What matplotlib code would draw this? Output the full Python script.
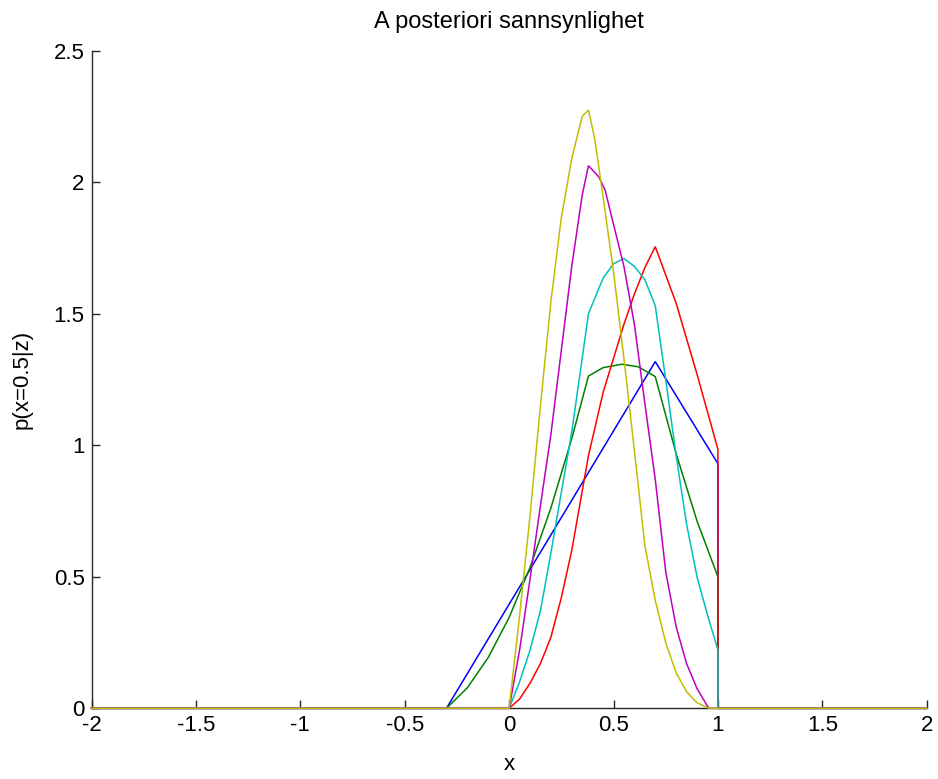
import matplotlib
matplotlib.use("Agg")
import matplotlib.pyplot as plt

plt.rcParams['font.family'] = ['Liberation Sans', 'DejaVu Sans']

# ---- data ----
blue_x = [-2.0, -0.3, 0.7, 1.0, 1.0, 2.0]
blue_y = [0.0, 0.0, 1.318, 0.93, 0.0, 0.0]

green_x = [-2.0, -0.3, -0.2, -0.1, 0.0, 0.1, 0.2, 0.3, 0.38, 0.45, 0.54, 0.62, 0.7,
           0.8, 0.9, 1.0, 1.0, 2.0]
green_y = [0.0, 0.0, 0.078, 0.193, 0.345, 0.535, 0.761, 1.025, 1.263, 1.295, 1.308,
           1.298, 1.261, 0.968, 0.712, 0.50, 0.0, 0.0]

red_x = [-2.0, 0.0, 0.05, 0.1, 0.15, 0.2, 0.25, 0.3, 0.38, 0.45, 0.5, 0.55, 0.6, 0.65,
         0.7, 0.8, 0.9, 1.0, 1.0, 2.0]
red_y = [0.0, 0.0, 0.035, 0.095, 0.17, 0.27, 0.42, 0.60, 0.96, 1.20, 1.33, 1.46, 1.575,
         1.675, 1.755, 1.54, 1.27, 0.985, 0.0, 0.0]

cyan_x = [-2.0, 0.0, 0.05, 0.1, 0.15, 0.2, 0.25, 0.3, 0.35, 0.38, 0.45, 0.5, 0.55, 0.6,
          0.65, 0.7, 0.75, 0.8, 0.85, 0.9, 0.95, 1.0, 1.0, 2.0]
cyan_y = [0.0, 0.0, 0.10, 0.22, 0.37, 0.59, 0.82, 1.05, 1.33, 1.50, 1.635, 1.69, 1.71,
          1.68, 1.63, 1.53, 1.25, 0.96, 0.70, 0.50, 0.355, 0.222, 0.0, 0.0]

magenta_x = [-2.0, 0.0, 0.05, 0.1, 0.15, 0.2, 0.25, 0.3, 0.35, 0.38, 0.43, 0.46, 0.5,
             0.55, 0.6, 0.65, 0.7, 0.75, 0.8, 0.85, 0.9, 0.95, 0.96, 2.0]
magenta_y = [0.0, 0.0, 0.22, 0.49, 0.77, 1.04, 1.36, 1.68, 1.95, 2.063, 2.02, 1.97,
             1.84, 1.68, 1.46, 1.16, 0.87, 0.52, 0.31, 0.17, 0.075, 0.008, 0.0, 0.0]

yellow_x = [-2.0, 0.0, 0.05, 0.1, 0.15, 0.2, 0.25, 0.3, 0.35, 0.38, 0.41, 0.45, 0.5,
            0.55, 0.6, 0.65, 0.7, 0.75, 0.8, 0.85, 0.9, 0.95, 0.96, 2.0]
yellow_y = [0.0, 0.0, 0.35, 0.73, 1.15, 1.545, 1.865, 2.09, 2.25, 2.275, 2.165, 1.945,
            1.66, 1.33, 0.98, 0.62, 0.41, 0.25, 0.135, 0.063, 0.021, 0.003, 0.0, 0.0]

x_ticks = [-2, -1.5, -1, -0.5, 0, 0.5, 1, 1.5, 2]
x_tick_labels = ['-2', '-1.5', '-1', '-0.5', '0', '0.5', '1', '1.5', '2']
y_ticks = [0, 0.5, 1, 1.5, 2, 2.5]
y_tick_labels = ['0', '0.5', '1', '1.5', '2', '2.5']

title = 'A posteriori sannsynlighet'
xlabel = 'x'
ylabel = 'p(x=0.5|z)'

series = [
    (blue_x, blue_y, (0.0, 0.0, 1.0)),
    (green_x, green_y, (0.0, 0.5, 0.0)),
    (red_x, red_y, (1.0, 0.0, 0.0)),
    (cyan_x, cyan_y, (0.0, 0.75, 0.75)),
    (magenta_x, magenta_y, (0.75, 0.0, 0.75)),
    (yellow_x, yellow_y, (0.75, 0.75, 0.0)),
]

# ---- figure ----
W, H = 938, 779
fig = plt.figure(figsize=(W / 100, H / 100), dpi=100)
ax = fig.add_axes([91.5 / W, 1 - 708.3 / H, (926.7 - 91.5) / W, (708.3 - 50.7) / H])

for xs, ys, col in series:
    ax.plot(xs, ys, color=col, lw=1.1, solid_joinstyle='miter', clip_on=False, zorder=3)

ax.set_xlim(-2, 2)
ax.set_ylim(0, 2.5)
ax.set_xticks(x_ticks)
ax.set_xticklabels(x_tick_labels)
ax.set_yticks(y_ticks)
ax.set_yticklabels(y_tick_labels)

for s in ['top', 'right']:
    ax.spines[s].set_visible(False)
for s in ['left', 'bottom']:
    ax.spines[s].set_linewidth(1.0)
    ax.spines[s].set_color('#262626')
    ax.spines[s].set_zorder(1)

ax.tick_params(direction='in', length=6, width=1.0, color='#262626',
               labelsize=16, pad=5, labelcolor='black')

fig.text(509 / W, 1 - 22 / H, title, ha='center', va='center', fontsize=17)
ax.set_xlabel(xlabel, fontsize=16, va='center')
ax.xaxis.set_label_coords(0.5, (708.3 - 765) / 657.6)
ax.set_ylabel(ylabel, fontsize=16, va='center')
ax.yaxis.set_label_coords((22 - 91.5) / 835.2, 0.5)

fig.savefig('out.png', dpi=100)
